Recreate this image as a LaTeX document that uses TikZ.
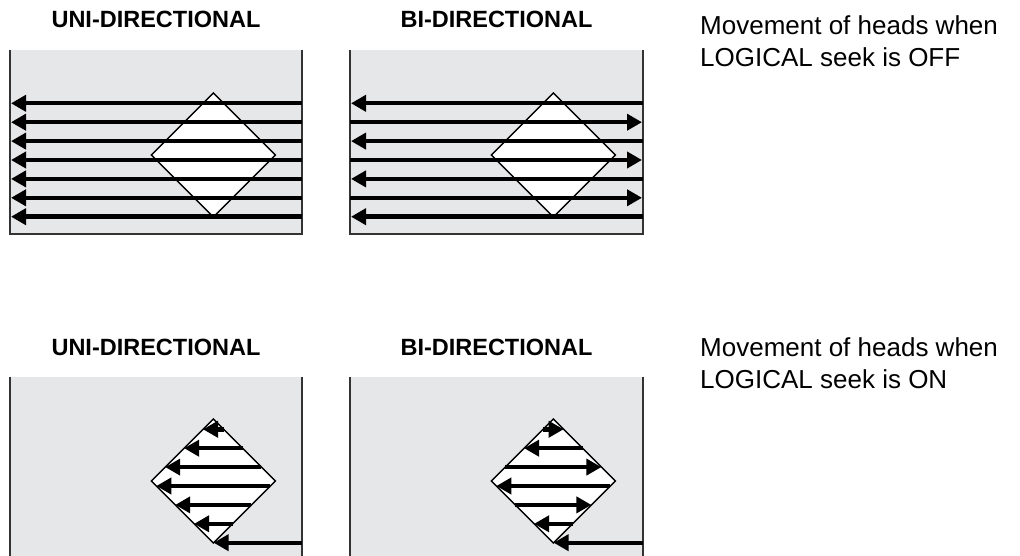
\documentclass[tikz,border=0pt]{standalone}
\usepackage{fontspec}
\setmainfont{Liberation Sans}
\usetikzlibrary{arrows.meta,shapes.geometric}
\definecolor{panelgray}{RGB}{230,231,232}
\begin{document}
\begin{tikzpicture}[x=1pt,y=-1pt,
  border/.style={draw=black!80,line width=1.4pt},
  track/.style={line width=4.4pt,-{Triangle[length=15pt 0 0,width=16pt 0 0]}},
  diam/.style={diamond,minimum width=124pt,minimum height=124pt,inner sep=0pt,outer sep=0pt,fill=white,draw=black,line width=1.4pt},
  title/.style={font=\bfseries\fontsize{23.5}{28}\selectfont,anchor=base,inner sep=0pt},
  caption/.style={font=\fontsize{26}{31.7}\selectfont,anchor=base west,inner sep=0pt}]
\useasboundingbox (0,0) rectangle (1020,556);

% titles
\node[title] (t1) at (156,27.3) {UNI-DIRECTIONAL};
\node[title] (t2) at (496.5,27.3) {BI-DIRECTIONAL};
\node[title] (t3) at (156,355) {UNI-DIRECTIONAL};
\node[title] (t4) at (496.5,355) {BI-DIRECTIONAL};

% captions
\node[caption] (c1) at (700,35) {Movement of heads when};
\node[caption] (c2) at (700,66.7) {LOGICAL seek is OFF};
\node[caption] (c3) at (700,356) {Movement of heads when};
\node[caption] (c4) at (700,388) {LOGICAL seek is ON};

% panels
\fill[panelgray] (10,50) rectangle (302,234);
\draw[border] (10,50) -- (10,234) -- (302,234) -- (302,50);
\fill[panelgray] (350,50) rectangle (643,234);
\draw[border] (350,50) -- (350,234) -- (643,234) -- (643,50);
\fill[panelgray] (10,376.7) rectangle (302,556);
\draw[border] (10,376.7) -- (10,556);
\draw[border] (302,376.7) -- (302,556);
\fill[panelgray] (350,376.7) rectangle (643,556);
\draw[border] (350,376.7) -- (350,556);
\draw[border] (643,376.7) -- (643,556);

% diamonds
\node[diam] (d1) at (213.3,155) {};
\node[diam] (d2) at (553.3,155) {};
\node[diam] (d3) at (213.3,481) {};
\node[diam] (d4) at (553.3,481) {};

\foreach \k in {0,...,6}{
  \pgfmathsetmacro\dy{61.7-18.9*\k}
  \pgfmathsetmacro\hw{62-abs(\dy)}
  % top uni-directional
  \coordinate (tuS\k) at (302,155+\dy);
  \coordinate (tuE\k) at (11,155+\dy);
  \draw[track] (tuS\k) -- (tuE\k);
  % top bi-directional
  \ifodd\k
    \coordinate (tbS\k) at (350,155+\dy);
    \coordinate (tbE\k) at (642,155+\dy);
  \else
    \coordinate (tbS\k) at (643,155+\dy);
    \coordinate (tbE\k) at (351,155+\dy);
  \fi
  \draw[track] (tbS\k) -- (tbE\k);
  % bottom panels
  \ifnum\k=0
    \coordinate (buS\k) at (302,481+\dy);
    \coordinate (buE\k) at (213.3+\hw,481+\dy);
    \coordinate (bbS\k) at (643,481+\dy);
    \coordinate (bbE\k) at (553.3+\hw,481+\dy);
  \else
    \coordinate (buS\k) at (213.3+\hw,481+\dy);
    \coordinate (buE\k) at (213.3-\hw,481+\dy);
    \ifodd\k
      \coordinate (bbS\k) at (553.3+\hw,481+\dy);
      \coordinate (bbE\k) at (553.3-\hw,481+\dy);
    \else
      \coordinate (bbS\k) at (553.3-\hw,481+\dy);
      \coordinate (bbE\k) at (553.3+\hw,481+\dy);
    \fi
  \fi
  \draw[track] (buS\k) -- (buE\k);
  \draw[track] (bbS\k) -- (bbE\k);
}
\end{tikzpicture}
\end{document}
